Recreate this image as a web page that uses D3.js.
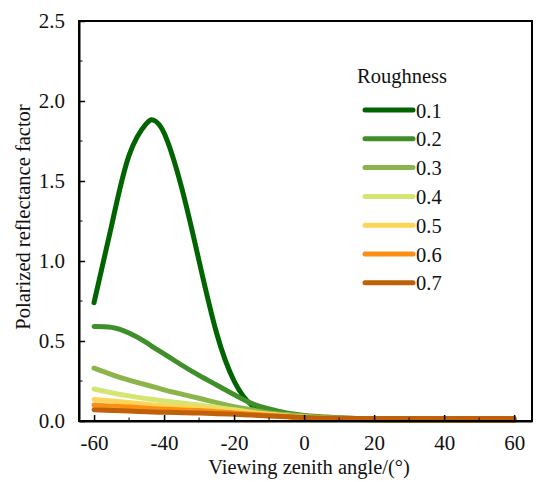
<!DOCTYPE html>
<html>
<head>
<meta charset="utf-8">
<script src="https://cdn.jsdelivr.net/npm/d3@7"></script>
<style>
    body { margin: 0; background: #fff; }
</style>
</head>
<body>
<svg id="chart" width="537" height="482"></svg>
<script>
// Viewing zenith angles (degrees) shared by every curve
const angles = [-60, -55, -50, -45, -43, -40, -35, -30, -25, -20, -15, -10, -5, 0, 5, 10, 15, 20, 25, 30, 35, 40, 45, 50, 55, 60];

// Polarized reflectance factor per roughness
const r01 = [0.74, 1.22, 1.66, 1.86, 1.88, 1.80, 1.46, 1.00, 0.55, 0.25, 0.10, 0.05, 0.03, 0.02, 0.015, 0.012, 0.01, 0.008, 0.007, 0.006, 0.005, 0.005, 0.004, 0.004, 0.004, 0.004];
const r02 = [0.59, 0.585, 0.55, 0.49, 0.46, 0.42, 0.35, 0.285, 0.225, 0.165, 0.11, 0.075, 0.05, 0.035, 0.027, 0.02, 0.016, 0.012, 0.01, 0.008, 0.007, 0.006, 0.005, 0.005, 0.004, 0.004];
const r03 = [0.33, 0.29, 0.255, 0.225, 0.213, 0.195, 0.168, 0.142, 0.115, 0.09, 0.07, 0.05, 0.04, 0.03, 0.024, 0.018, 0.014, 0.01, 0.008, 0.007, 0.006, 0.005, 0.004, 0.004, 0.003, 0.003];
const r04 = [0.20, 0.177, 0.157, 0.14, 0.134, 0.125, 0.112, 0.10, 0.085, 0.07, 0.055, 0.042, 0.032, 0.025, 0.02, 0.015, 0.011, 0.008, 0.007, 0.006, 0.005, 0.004, 0.004, 0.003, 0.003, 0.003];
const r05 = [0.135, 0.125, 0.115, 0.105, 0.10, 0.095, 0.088, 0.08, 0.07, 0.06, 0.05, 0.04, 0.03, 0.022, 0.017, 0.013, 0.01, 0.008, 0.007, 0.006, 0.005, 0.004, 0.004, 0.003, 0.003, 0.003];
const r06 = [0.10, 0.093, 0.087, 0.08, 0.077, 0.074, 0.069, 0.065, 0.058, 0.05, 0.043, 0.035, 0.028, 0.02, 0.016, 0.013, 0.01, 0.009, 0.008, 0.007, 0.006, 0.006, 0.005, 0.005, 0.005, 0.005];
const r07 = [0.07, 0.066, 0.062, 0.058, 0.056, 0.054, 0.052, 0.05, 0.046, 0.042, 0.037, 0.032, 0.027, 0.022, 0.019, 0.017, 0.016, 0.015, 0.015, 0.015, 0.015, 0.015, 0.015, 0.015, 0.015, 0.015];

const roughness = ["0.1", "0.2", "0.3", "0.4", "0.5", "0.6", "0.7"];
const colors = ["#006400", "#3f8f2a", "#8bb54a", "#d6e571", "#fdd556", "#fb8f14", "#c0600a"];

const xTicks = [-60, -40, -20, 0, 20, 40, 60];
const xMinor = [-50, -30, -10, 10, 30, 50];
const yTicks = [0, 0.5, 1.0, 1.5, 2.0, 2.5];
const yMinor = [0.25, 0.75, 1.25, 1.75, 2.25];

const serif = "'Liberation Serif'";

const series = [r01, r02, r03, r04, r05, r06, r07].map(function(vals, i) {
    return {
        name: roughness[i],
        color: colors[i],
        points: angles.map(function(a, j) { return [a, vals[j]]; })
    };
});

// plot box
const boxL = 79, boxR = 532, boxT = 21, boxB = 421;

const x = d3.scaleLinear().domain([-64.3, 65.1]).range([boxL, boxR]);
const y = d3.scaleLinear().domain([0, 2.5]).range([boxB, boxT]);

const svg = d3.select("#chart");

// Curves, 0.1 at the back
const line = d3.line()
    .x(function(d) { return x(d[0]); })
    .y(function(d) { return y(d[1]); })
    .curve(d3.curveNatural);

svg.append("g")
    .selectAll("path")
    .data(series)
    .enter()
    .append("path")
    .attr("d", function(d) { return line(d.points); })
    .attr("fill", "none")
    .attr("stroke", function(d) { return d.color; })
    .attr("stroke-width", 5)
    .attr("stroke-linecap", "round")
    .attr("stroke-linejoin", "round");

// Bottom axis: ticks pointing inward
const xAxis = svg.append("g").attr("transform", "translate(0," + boxB + ")");
xAxis.call(d3.axisBottom(x).tickValues(xTicks).tickSizeInner(-6).tickSizeOuter(0)
        .tickFormat(function(d) { return d < 0 ? "-" + Math.abs(d) : d; }).tickPadding(14));
xAxis.attr("font-family", null).attr("font-size", null);
xAxis.selectAll(".tick text")
    .style("font-family", serif)
    .attr("font-size", 21)
    .attr("fill", "#111");
xAxis.append("g")
    .selectAll("line")
    .data(xMinor)
    .enter()
    .append("line")
    .attr("x1", function(d) { return x(d); })
    .attr("x2", function(d) { return x(d); })
    .attr("y1", 0)
    .attr("y2", -3.5)
    .attr("stroke", "#000");

// Left axis: ticks pointing inward
const yAxis = svg.append("g").attr("transform", "translate(" + boxL + ",0)");
yAxis.call(d3.axisLeft(y).tickValues(yTicks).tickSizeInner(-6).tickSizeOuter(0)
        .tickFormat(d3.format(".1f")).tickPadding(14));
yAxis.attr("font-family", null).attr("font-size", null);
yAxis.selectAll(".tick text")
    .style("font-family", serif)
    .attr("font-size", 21)
    .attr("fill", "#111");
yAxis.append("g")
    .selectAll("line")
    .data(yMinor)
    .enter()
    .append("line")
    .attr("x1", 0)
    .attr("x2", 3.5)
    .attr("y1", function(d) { return y(d); })
    .attr("y2", function(d) { return y(d); })
    .attr("stroke", "#000");

svg.selectAll(".domain").attr("stroke-width", 2);
svg.selectAll(".tick line").attr("stroke-width", 1.5);

// Frame top and right
svg.append("rect")
    .attr("x", boxL)
    .attr("y", boxT)
    .attr("width", boxR - boxL)
    .attr("height", boxB - boxT)
    .attr("fill", "none")
    .attr("stroke", "#000")
    .attr("stroke-width", 2);

// Axis titles
svg.append("text")
    .attr("x", 309)
    .attr("y", 474)
    .attr("text-anchor", "middle")
    .attr("fill", "#111")
    .attr("font-size", 20.5)
    .style("font-family", serif)
    .text("Viewing zenith angle/(°)");

svg.append("text")
    .attr("transform", "translate(30," + ((boxT + boxB) / 2 - 4) + ") rotate(-90)")
    .attr("text-anchor", "middle")
    .attr("fill", "#111")
    .attr("font-size", 20.5)
    .style("font-family", serif)
    .text("Polarized reflectance factor");

// Legend
svg.append("text")
    .attr("x", 357)
    .attr("y", 83)
    .attr("fill", "#111")
    .attr("font-size", 20.5)
    .style("font-family", serif)
    .text("Roughness");

svg.append("g")
    .selectAll("line")
    .data(series)
    .enter()
    .append("line")
    .attr("x1", 365)
    .attr("x2", 413)
    .attr("y1", function(d, i) { return 110 + i * 28.8; })
    .attr("y2", function(d, i) { return 110 + i * 28.8; })
    .attr("stroke", function(d) { return d.color; })
    .attr("stroke-width", 5)
    .attr("stroke-linecap", "round");

svg.selectAll("text.lab")
    .data(series)
    .enter()
    .append("text")
    .attr("class", "lab")
    .attr("x", 416)
    .attr("y", function(d, i) { return 117.5 + i * 28.8; })
    .attr("fill", "#111")
    .attr("font-size", 20.5)
    .style("font-family", serif)
    .text(function(d) { return d.name; });
</script>
</body>
</html>
